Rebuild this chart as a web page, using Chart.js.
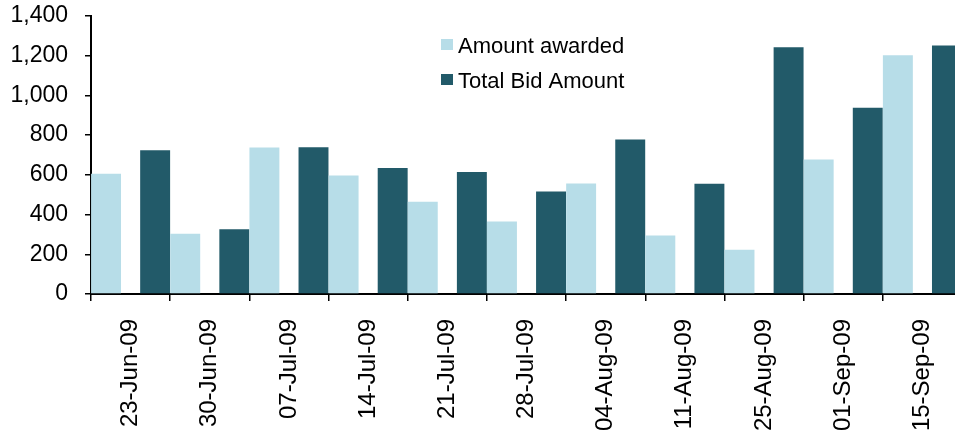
<!DOCTYPE html>
<html>
<head>
<meta charset="utf-8">
<script src="https://cdn.jsdelivr.net/npm/chart.js@4/dist/chart.umd.min.js"></script>
<style>
  html, body { margin: 0; padding: 0; background: #fff; overflow: hidden; }
  #wrap { width: 980px; height: 435px; }
</style>
</head>
<body>
<div id="wrap"><canvas id="chart" width="980" height="435"></canvas></div>
<script>
// --- data ---
const dates = ['23-Jun-09', '30-Jun-09', '07-Jul-09', '14-Jul-09', '21-Jul-09', '28-Jul-09',
               '04-Aug-09', '11-Aug-09', '25-Aug-09', '01-Sep-09', '15-Sep-09'];
const amountAwarded = [605, 303, 738, 597, 464, 365, 556, 294, 223, 677, 1202];
const totalBid      = [724, 326, 739, 635, 615, 516, 778, 555, 1242, 938, 1252];

const LIGHT = '#b7dde8';
const DARK = '#225a69';
const FONT = "'Liberation Sans', Arial, sans-serif";

// legend drawn inside the plot area (top middle)
const insideLegend = {
    id: 'insideLegend',
    afterDraw(chart) {
        const ctx = chart.ctx;
        ctx.save();
        ctx.font = '22px ' + FONT;
        ctx.textBaseline = 'alphabetic';
        chart.data.datasets.forEach((ds, i) => {
            const base = 53 + i * 35;
            ctx.fillStyle = ds.backgroundColor;
            ctx.fillRect(441, base - 14, 12, 11);
            ctx.fillStyle = '#000';
            ctx.fillText(ds.label, 458, base);
        });
        ctx.restore();
    }
};

new Chart(document.getElementById('chart'), {
    type: 'bar',
    data: {
        labels: dates,
        datasets: [
            { label: 'Amount awarded', data: amountAwarded, backgroundColor: LIGHT },
            { label: 'Total Bid Amount', data: totalBid, backgroundColor: DARK }
        ]
    },
    options: {
        responsive: false,
        animation: false,
        categoryPercentage: 1.24,
        barPercentage: 0.61,
        layout: { padding: { left: 0, right: 18, top: 16, bottom: 0 } },
        plugins: { legend: { display: false }, tooltip: { enabled: false } },
        scales: {
            x: {
                offset: true,
                afterFit: s => { s.height = 141; },
                grid: { offset: true, drawOnChartArea: false, tickLength: 7, color: '#000', lineWidth: 1.5 },
                border: { color: '#000', width: 2 },
                ticks: {
                    autoSkip: false, minRotation: 90, maxRotation: 90, padding: 18,
                    color: '#000', font: { family: FONT, size: 24 }
                }
            },
            y: {
                min: 0, max: 1400,
                // fixed width, and no extra label padding pushing the top down
                afterFit: s => { s.width = 91; s.paddingTop = 0; s.paddingBottom = 0; },
                grid: { drawOnChartArea: false, tickLength: 6, color: '#000', lineWidth: 1.5 },
                border: { color: '#000', width: 2 },
                ticks: { stepSize: 200, padding: 17, color: '#000', font: { family: FONT, size: 23 } }
            }
        }
    },
    plugins: [insideLegend]
});
</script>
</body>
</html>
